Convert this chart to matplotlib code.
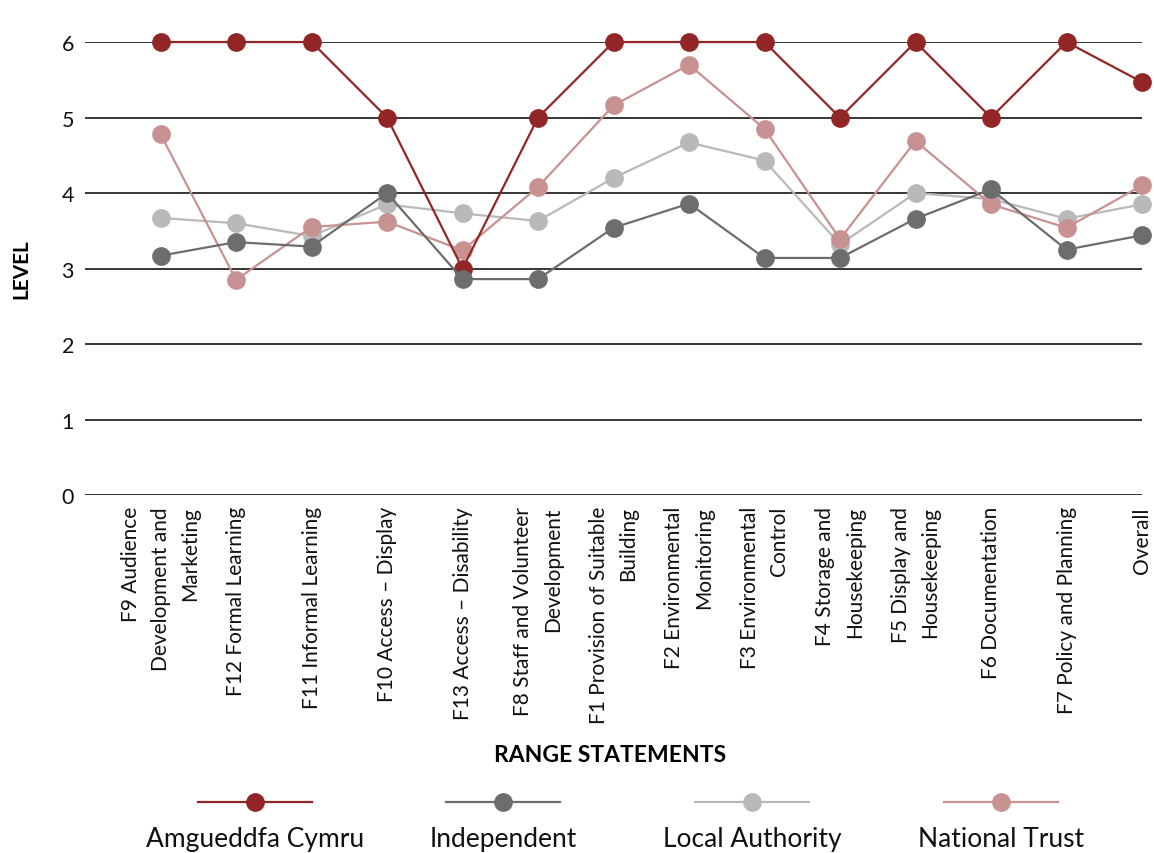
import matplotlib
matplotlib.use("Agg")
import matplotlib.pyplot as plt
from matplotlib.lines import Line2D

plt.rcParams['font.family'] = ['Lato', 'DejaVu Sans']

categories = [
    "F9 Audience\nDevelopment and\nMarketing",
    "F12 Formal Learning",
    "F11 Informal Learning",
    "F10 Access \u2013 Display",
    "F13 Access \u2013 Disability",
    "F8 Staff and Volunteer\nDevelopment",
    "F1 Provision of Suitable\nBuilding",
    "F2 Environmental\nMonitoring",
    "F3 Environmental\nControl",
    "F4 Storage and\nHousekeeping",
    "F5 Display and\nHousekeeping",
    "F6 Documentation",
    "F7 Policy and Planning",
    "Overall",
]

amgueddfa = [6, 6, 6, 5, 3, 5, 6, 6, 6, 5, 6, 5, 6, 5.47]
independent = [3.17, 3.35, 3.29, 4.0, 2.86, 2.86, 3.54, 3.86, 3.14, 3.14, 3.66, 4.05, 3.25, 3.44]
local_authority = [3.67, 3.60, 3.43, 3.85, 3.73, 3.63, 4.20, 4.67, 4.43, 3.32, 4.0, 3.92, 3.66, 3.85]
national_trust = [4.78, 2.85, 3.55, 3.62, 3.24, 4.08, 5.16, 5.70, 4.85, 3.39, 4.69, 3.85, 3.54, 4.10]

series_names = ["Amgueddfa Cymru", "Independent", "Local Authority", "National Trust"]
series_values = [amgueddfa, independent, local_authority, national_trust]
series_colors = ["#922626", "#6d6d6d", "#b9b9b9", "#c99292"]
series_z = [5, 6, 3, 4]

fig = plt.figure(figsize=(11.54, 8.54), dpi=100)
ax = fig.add_axes([0.0737, 0.4192, 0.9159, 0.5304])

x = list(range(len(categories)))
for vals, col, z in zip(series_values, series_colors, series_z):
    ax.plot(x, vals, color=col, lw=1.6, marker='o', markersize=13.5,
            markeredgewidth=0, zorder=z, clip_on=False)

ax.set_xlim(-1, len(categories) - 1)
ax.set_ylim(0, 6)
ax.set_yticks(range(0, 7))
for yv in range(0, 7):
    ax.axhline(yv, color='#262626', lw=1.3, zorder=1)

for s in ax.spines.values():
    s.set_visible(False)
ax.tick_params(axis='both', length=0, labelsize=15.5, colors='#111111')
ax.tick_params(axis='y', pad=8)
ax.set_xticks(x)
ax.set_xticklabels(categories, rotation=90, ha='center', va='top',
                   multialignment='right', fontsize=15, linespacing=1.6)
ax.tick_params(axis='x', pad=8)

ax.set_ylabel("LEVEL", fontsize=15, fontweight='bold', labelpad=22)
fig.text(0.529, 1 - 756 / 854, "RANGE STATEMENTS", fontsize=16.5,
         fontweight='bold', ha='center', va='center')

# Legend row: marker on a short line, name underneath
legend_x = [255, 503, 752, 1001]
for cx, name, col in zip(legend_x, series_names, series_colors):
    fx = cx / 1154
    fy = 1 - 803 / 854
    half = 57 / 1154
    fig.add_artist(Line2D([fx - half, fx + half], [fy, fy], color=col, lw=1.6,
                          transform=fig.transFigure))
    fig.add_artist(Line2D([fx], [fy], color=col, marker='o', markersize=13.5,
                          markeredgewidth=0, transform=fig.transFigure))
    fig.text(fx, 1 - 840 / 854, name, fontsize=19, ha='center', va='center',
             color='#111111')

fig.savefig("out.png", dpi=100)
